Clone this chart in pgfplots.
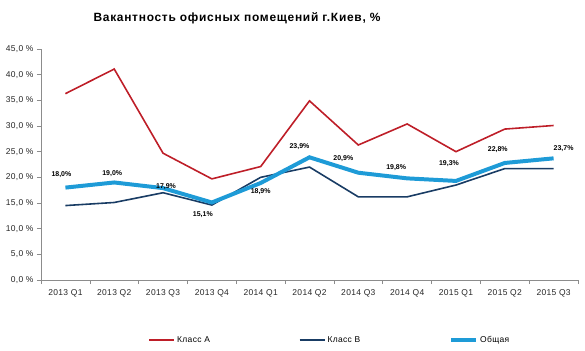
\documentclass[border=0pt]{standalone}
\usepackage{pgfplots}
\pgfplotsset{compat=1.18}
\usepackage{pgfplotstable}
\usepackage{fontspec}
\setmainfont{Liberation Sans}
\newfontfamily\titlefont[LetterSpace=6]{Liberation Sans}
\newfontfamily\tickfont[LetterSpace=4]{Liberation Sans}
\definecolor{clA}{RGB}{190,30,40}
\definecolor{clB}{RGB}{25,60,100}
\definecolor{clT}{RGB}{30,155,215}
\definecolor{axgray}{RGB}{140,140,140}
\pgfplotstableread{
x A B
0 36.3 14.5
1 41.1 15.1
2 24.7 17.0
3 19.7 14.6
4 22.1 20.0
5 34.9 22.0
6 26.3 16.2
7 30.4 16.2
8 25.0 18.5
9 29.4 21.7
10 30.1 21.7
}\dataAB
\pgfplotstableread{
x T lbl dx dy
0 18.0 18,0 -4 13
1 19.0 19,0 -2 9
2 17.9 17,9 3 2
3 15.1 15,1 -9 -12.5
4 18.9 18,9 0 -9
5 23.9 23,9 -10 11
6 20.9 20,9 -15 14
7 19.8 19,8 -11 11
8 19.3 19,3 -7 17
9 22.8 22,8 -7 13
10 23.7 23,7 10 9.5
}\dataT
\begin{document}
\begin{tikzpicture}
\begin{axis}[
  scale only axis,
  width=537bp, height=231bp,
  xmin=-0.5, xmax=10.5, ymin=0, ymax=45,
  axis x line*=bottom, axis y line*=left,
  axis line style={draw=axgray, line width=0.6pt},
  xtick={0,...,10},
  xticklabels={2013 Q1,2013 Q2,2013 Q3,2013 Q4,2014 Q1,2014 Q2,2014 Q3,2014 Q4,2015 Q1,2015 Q2,2015 Q3},
  major x tick style={draw=none},
  minor xtick={-0.5,0.5,...,10.5},
  minor x tick style={draw=axgray, line width=0.6pt},
  ytick={0,5,...,45},
  yticklabels={{0,0 \%},{5,0 \%},{10,0 \%},{15,0 \%},{20,0 \%},{25,0 \%},{30,0 \%},{35,0 \%},{40,0 \%},{45,0 \%}},
  y tick style={draw=axgray, line width=0.6pt},
  tick align=outside,
  major tick length=4bp, minor tick length=4bp,
  tick label style={font=\tickfont\fontsize{8.5}{9}\selectfont, text=black!85},
  xticklabel style={yshift=-2bp},
  title={\bfseries Вакантность офисных помещений г.Киев, \%},
  title style={at={(axis description cs:0.365,1.105)}, anchor=center, font=\titlefont\fontsize{12}{14}\selectfont},
  legend columns=3,
  legend style={at={(axis description cs:0.2,-0.26)}, anchor=west, draw=none, inner sep=0pt,
    font=\tickfont\fontsize{8.5}{9}\selectfont,
    /tikz/every even column/.append style={column sep=87bp}},
  legend image code/.code={\draw[#1] (0bp,0bp) -- (25bp,0bp);},
  clip=false,
]
\addplot[clA, line width=1.6pt] table[x=x, y=A] {\dataAB};
\addlegendentry{Класс А}
\addplot[clB, line width=1.6pt] table[x=x, y=B] {\dataAB};
\addlegendentry{Класс В}
\addplot[clT, line width=4pt,
  nodes near coords={\pgfplotspointmeta\%},
  point meta=explicit symbolic,
  visualization depends on={\thisrow{dx} \as \dx},
  visualization depends on={\thisrow{dy} \as \dy},
  every node near coord/.append style={anchor=center, xshift=\dx bp, yshift=\dy bp, text=black, font=\bfseries\fontsize{7}{8}\selectfont, line width=0pt}
] table[x=x, y=T, meta=lbl] {\dataT};
\addlegendentry{Общая}
\end{axis}
\path[use as bounding box] (-41bp,-71bp) rectangle (544bp,280bp);
\end{tikzpicture}
\end{document}
